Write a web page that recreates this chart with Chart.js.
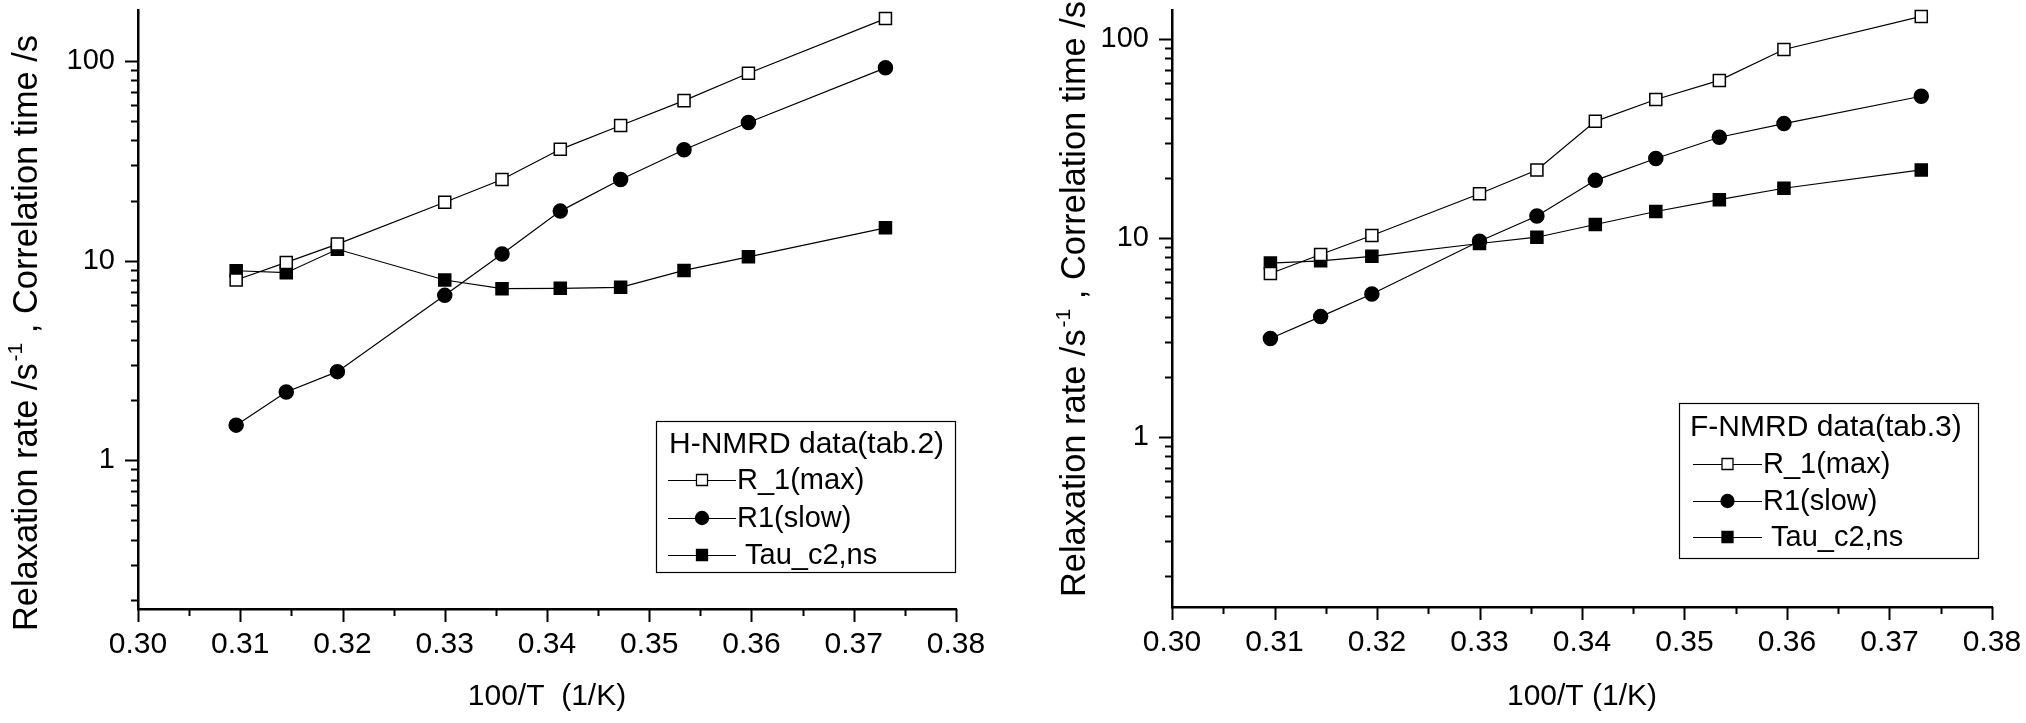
<!DOCTYPE html>
<html>
<head>
<meta charset="utf-8">
<script src="https://cdn.jsdelivr.net/npm/chart.js@4.4.1/dist/chart.umd.min.js"></script>
<style>
  html, body { margin: 0; padding: 0; background: #fff; }
  .wrap { position: absolute; top: 0; width: 1013px; height: 723px; }
</style>
</head>
<body>
<div class="wrap" style="left:0"><canvas id="hChart" width="1013" height="723"></canvas></div>
<div class="wrap" style="left:1013px"><canvas id="fChart" width="1013" height="723"></canvas></div>
<script>
// 100/T values (1/K), shared by both panels
const invT = [0.3096, 0.3145, 0.3195, 0.3300, 0.3356, 0.3413, 0.3472, 0.3534, 0.3597, 0.3731];
const xTickLabels = ['0.30', '0.31', '0.32', '0.33', '0.34', '0.35', '0.36', '0.37', '0.38'];
const yTickLabels = ['1', '10', '100'];
const seriesNames = ['R_1(max)', 'R1(slow)', 'Tau_c2,ns'];

// left panel: H-NMRD data (tab.2)
const hR1max = [8.0, 9.8, 12.1, 19.6, 25.5, 36.1, 47.5, 63.3, 86.8, 163];
const hR1slow = [1.50, 2.20, 2.78, 6.7, 10.8, 17.7, 25.5, 35.9, 49.2, 92.4];
const hTau = [8.9, 8.7, 11.4, 8.0, 7.24, 7.27, 7.35, 8.93, 10.45, 14.6];

// right panel: F-NMRD data (tab.3)
const fR1max = [6.64, 8.27, 10.3, 16.7, 22.0, 38.6, 49.7, 62.0, 88.6, 130];
const fR1slow = [3.13, 4.03, 5.24, 9.64, 12.9, 19.5, 25.1, 32.1, 37.6, 51.6];
const fTau = [7.49, 7.69, 8.10, 9.39, 10.1, 11.7, 13.6, 15.6, 17.8, 22.0];

const FONT = '"Liberation Sans", Arial, sans-serif';
Chart.defaults.font.family = FONT;
Chart.defaults.color = '#000';

const xMajor = xTickLabels.map(Number);
const yMajor = yTickLabels.map(Number);

function isMajorX(v) { return xMajor.some(m => Math.abs(m - v) < 1e-6); }
function isMajorY(v) { return yMajor.some(m => Math.abs(m - v) < 1e-9); }

// origin style ticks: outward, long at labels, short between
const originTicks = {
  id: 'originTicks',
  afterDraw(chart) {
    const {ctx, chartArea, scales: {x, y}} = chart;
    ctx.save();
    ctx.strokeStyle = '#000';
    ctx.lineWidth = 2;
    ctx.beginPath();
    x.ticks.forEach(t => {
      const px = Math.round(x.getPixelForValue(t.value)) + 0.5;
      const len = isMajorX(t.value) ? 13 : 7;
      ctx.moveTo(px, chartArea.bottom);
      ctx.lineTo(px, chartArea.bottom + len);
    });
    y.ticks.forEach(t => {
      const py = Math.round(y.getPixelForValue(t.value)) + 0.5;
      const len = isMajorY(t.value) ? 13 : 7;
      ctx.moveTo(chartArea.left, py);
      ctx.lineTo(chartArea.left - len, py);
    });
    ctx.stroke();
    ctx.restore();
  }
};

// rotated y title with a real superscript
const yTitle = {
  id: 'yTitle',
  afterDraw(chart, args, opts) {
    const ctx = chart.ctx;
    ctx.save();
    ctx.translate(opts.x, opts.y);
    ctx.rotate(-Math.PI / 2);
    ctx.fillStyle = '#000';
    ctx.textAlign = 'left';
    ctx.textBaseline = 'alphabetic';
    let cx = 0;
    ctx.font = '34.4px ' + FONT;
    ctx.fillText(opts.parts[0], cx, 0);
    cx += ctx.measureText(opts.parts[0]).width + 2;
    ctx.font = '21px ' + FONT;
    ctx.fillText(opts.parts[1], cx, -15);
    cx += ctx.measureText(opts.parts[1]).width;
    ctx.font = '34.4px ' + FONT;
    ctx.fillText(opts.parts[2], cx, 0);
    ctx.restore();
  }
};

function drawMarker(ctx, style, r, x, y, fill) {
  ctx.beginPath();
  if (style === 'circle') {
    ctx.arc(x, y, r, 0, Math.PI * 2);
  } else {
    ctx.rect(x - r, y - r, 2 * r, 2 * r);
  }
  ctx.fillStyle = fill;
  ctx.fill();
  ctx.lineWidth = 1.3;
  ctx.strokeStyle = '#000';
  ctx.stroke();
}

// boxed legend inside the plot, Origin style
const boxLegend = {
  id: 'boxLegend',
  afterDraw(chart, args, o) {
    const ctx = chart.ctx;
    ctx.save();
    ctx.fillStyle = '#fff';
    ctx.fillRect(o.box[0], o.box[1], o.box[2] - o.box[0], o.box[3] - o.box[1]);
    ctx.strokeStyle = '#000';
    ctx.lineWidth = 1.2;
    ctx.strokeRect(o.box[0] + 0.5, o.box[1] + 0.5, o.box[2] - o.box[0], o.box[3] - o.box[1]);
    ctx.fillStyle = '#000';
    ctx.textAlign = 'left';
    ctx.textBaseline = 'alphabetic';
    ctx.font = '30px ' + FONT;
    ctx.fillText(o.title, o.titleX, o.titleY);
    chart.data.datasets.forEach((ds, i) => {
      const cy = o.rows[i];
      ctx.beginPath();
      ctx.lineWidth = 1;
      ctx.strokeStyle = '#000';
      ctx.moveTo(o.line[0], cy + 0.5);
      ctx.lineTo(o.line[1], cy + 0.5);
      ctx.stroke();
      const mx = (o.line[0] + o.line[1]) / 2;
      drawMarker(ctx, ds.pointStyle, ds.pointStyle === 'circle' ? 6.5 : 5.5, mx, cy, ds.pointBackgroundColor);
      ctx.fillStyle = '#000';
      ctx.font = '29px ' + FONT;
      ctx.textBaseline = 'middle';
      ctx.fillText(ds.label, o.textX + o.indent[i], cy + 1);
      ctx.textBaseline = 'alphabetic';
    });
    ctx.restore();
  }
};

function makeDatasets(r1max, r1slow, tau) {
  const pts = arr => invT.map((x, i) => ({x: x, y: arr[i]}));
  const base = {borderColor: '#000', borderWidth: 1.2, pointBorderColor: '#000',
                pointBorderWidth: 1.5, clip: false, tension: 0};
  return [
    Object.assign({}, base, {label: seriesNames[0], data: pts(r1max), pointStyle: 'rect',
      pointRadius: 8.5, pointBackgroundColor: '#fff'}),
    Object.assign({}, base, {label: seriesNames[1], data: pts(r1slow), pointStyle: 'circle',
      pointRadius: 7, pointBackgroundColor: '#000'}),
    Object.assign({}, base, {label: seriesNames[2], data: pts(tau), pointStyle: 'rect',
      pointRadius: 8.5, pointBackgroundColor: '#000'})
  ];
}

function noScalePadding(scale) {
  scale.paddingTop = 0;
  scale.paddingBottom = 0;
  scale.paddingLeft = 0;
  scale.paddingRight = 0;
}

function makeChart(id, datasets, cfg) {
  return new Chart(document.getElementById(id).getContext('2d'), {
    type: 'line',
    data: {datasets: datasets},
    options: {
      responsive: false,
      animation: false,
      devicePixelRatio: 1,
      layout: {padding: {top: cfg.top, right: cfg.right, left: 0, bottom: 0}},
      plugins: {
        legend: {display: false},
        tooltip: {enabled: false},
        yTitle: cfg.yTitle,
        boxLegend: cfg.legend
      },
      scales: {
        x: {
          type: 'linear',
          min: 0.30,
          max: 0.38,
          afterBuildTicks: scale => {
            const t = [];
            xMajor.forEach((v, i) => {
              t.push({value: v});
              if (i < xMajor.length - 1) t.push({value: (v + xMajor[i + 1]) / 2});
            });
            scale.ticks = t;
          },
          afterFit: scale => { scale.height = cfg.xHeight; noScalePadding(scale); },
          grid: {display: false, drawTicks: false},
          border: {display: true, color: '#000', width: 2.5},
          ticks: {
            autoSkip: false, maxRotation: 0, padding: 18,
            font: {size: 30},
            callback: v => {
              const k = xMajor.findIndex(m => Math.abs(m - v) < 1e-6);
              return k >= 0 ? xTickLabels[k] : '';
            }
          },
          title: {display: true, text: cfg.xTitle, font: {size: 30}, padding: {top: 0, bottom: 8}}
        },
        y: {
          type: 'logarithmic',
          min: cfg.yMin,
          max: cfg.yMax,
          afterBuildTicks: scale => {
            const t = [];
            [0.1, 1, 10, 100].forEach(d => {
              for (let k = 1; k <= 9; k++) {
                const v = d * k;
                if (v >= cfg.yMin && v <= cfg.yMax) t.push({value: v});
              }
            });
            scale.ticks = t;
          },
          afterFit: scale => { scale.width = cfg.yWidth; noScalePadding(scale); },
          grid: {display: false, drawTicks: false},
          border: {display: true, color: '#000', width: 2.5},
          ticks: {
            autoSkip: false, padding: 23,
            font: {size: 29},
            callback: v => {
              const k = yMajor.findIndex(m => Math.abs(m - v) < 1e-9);
              return k >= 0 ? yTickLabels[k] : '';
            }
          }
        }
      }
    },
    plugins: [originTicks, yTitle, boxLegend]
  });
}

const yTitleParts = ['Relaxation rate /s', '-1', ' , Correlation time /s'];

makeChart('hChart', makeDatasets(hR1max, hR1slow, hTau), {
  top: 4, right: 57, yWidth: 138, xHeight: 114,
  yMin: 0.18, yMax: 180,
  xTitle: '100/T  (1/K)',
  yTitle: {x: 37, y: 631, parts: yTitleParts},
  legend: {box: [656, 421, 955, 572], title: 'H-NMRD data(tab.2)', titleX: 669, titleY: 453,
           rows: [480, 518, 555], line: [668, 736], textX: 737, indent: [0, 0, 8]}
});

makeChart('fChart', makeDatasets(fR1max, fR1slow, fTau), {
  top: 4, right: 34, yWidth: 159, xHeight: 116,
  yMin: 0.14, yMax: 140,
  xTitle: '100/T (1/K)',
  yTitle: {x: 72, y: 597, parts: yTitleParts},
  legend: {box: [666, 403, 965, 558], title: 'F-NMRD data(tab.3)', titleX: 677, titleY: 436,
           rows: [464, 501, 537], line: [680, 749], textX: 750, indent: [0, 0, 8]}
});
</script>
</body>
</html>
